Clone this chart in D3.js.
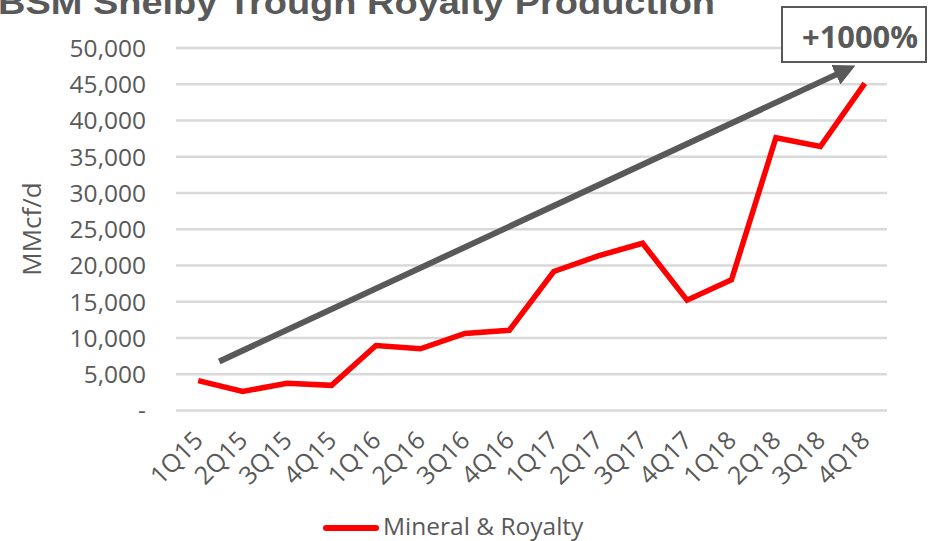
<!DOCTYPE html>
<html><head><meta charset="utf-8">
<script src="https://cdn.jsdelivr.net/npm/d3@7"></script>
<style>body{margin:0;background:#fff}svg{display:block}</style>
</head><body>
<svg id="c" width="931" height="541"></svg>
<script>
const categories = ["1Q15","2Q15","3Q15","4Q15","1Q16","2Q16","3Q16","4Q16","1Q17","2Q17","3Q17","4Q17","1Q18","2Q18","3Q18","4Q18"];
const royalty = [4050,2550,3700,3400,8900,8450,10550,11000,19100,21250,23000,15150,17950,37550,36350,45050];
const yTicks = [0,5000,10000,15000,20000,25000,30000,35000,40000,45000,50000];
const trendStart = {cat:"1Q15", v:6700};
const trendEnd = {cat:"4Q18", v:46500};
const title = "BSM Shelby Trough Royalty Production";
const seriesName = "Mineral & Royalty";
const yLabel = "MMcf/d";
const callout = "+1000%";

(function(){
const svg = d3.select("#c");
const grey = "#595959", font = "'Open Sans', sans-serif";
const pL = 176, pR = 887, pT = 47.5, pB = 410;
const x = d3.scalePoint().domain(categories).range([pL, pR]).padding(0.5);
const y = d3.scaleLinear().domain([0, 50000]).range([pB, pT]);

// title (cropped at top, as in the reference)
svg.append("text").attr("x", -2).attr("y", 14).attr("fill", grey)
  .attr("font-family", "'Liberation Sans Narrow','Liberation Sans',sans-serif")
  .attr("font-weight", "bold").attr("font-size", 33)
  .attr("textLength", 717).attr("lengthAdjust", "spacingAndGlyphs").text(title);

// gridlines + y tick labels
const yAxis = d3.axisLeft(y).tickValues(yTicks).tickSize(-(pR-pL)).tickPadding(30)
  .tickFormat(d => d === 0 ? "-" : d3.format(",")(d));
const gy = svg.append("g").attr("transform", `translate(${pL},0)`).call(yAxis);
gy.select(".domain").remove();
gy.selectAll(".tick line").attr("stroke", "#d9d9d9").attr("stroke-width", 2.5);
gy.selectAll(".tick text").attr("fill", grey).attr("font-family", font).attr("font-size", 24.5)
  .attr("dy", "0.36em");

// y label
svg.append("text").attr("transform", "translate(41,229) rotate(-90)").attr("text-anchor", "middle")
  .attr("fill", grey).attr("font-family", font).attr("font-size", 26).text(yLabel);

// x axis labels
const xAxis = d3.axisBottom(x).tickSize(0).tickPadding(0);
const gx = svg.append("g").attr("transform", `translate(0,${pB})`).call(xAxis);
gx.select(".domain").remove();
gx.selectAll(".tick text").attr("fill", grey).attr("font-family", font).attr("font-size", 25)
  .attr("text-anchor", "end").attr("dy", 0)
  .attr("transform", "translate(6,32) rotate(-45)");

// trend arrow
const defs = svg.append("defs");
defs.append("marker").attr("id", "ah").attr("viewBox", "0 0 10 10").attr("refX", 2).attr("refY", 5)
  .attr("markerWidth", 3.6).attr("markerHeight", 3.6).attr("orient", "auto")
  .append("path").attr("d", "M0,0 L10,5 L0,10 z").attr("fill", grey);
const ax0 = x(trendStart.cat) + 21, ay0 = y(trendStart.v);
const ax1 = x(trendEnd.cat) - 25, ay1 = y(trendEnd.v);
svg.append("line").attr("x1", ax0).attr("y1", ay0).attr("x2", ax1).attr("y2", ay1)
  .attr("stroke", grey).attr("stroke-width", 6).attr("marker-end", "url(#ah)");

// series line
const line = d3.line().x((d, i) => x(categories[i])).y(d => y(d));
svg.append("path").datum(royalty).attr("d", line).attr("fill", "none")
  .attr("stroke", "#ff0000").attr("stroke-width", 5.5).attr("stroke-linejoin", "miter");

// callout box
svg.append("rect").attr("x", 782).attr("y", 7).attr("width", 144).attr("height", 55)
  .attr("fill", "#fff").attr("stroke", grey).attr("stroke-width", 2);
svg.append("text").attr("x", 860).attr("y", 48).attr("text-anchor", "middle").attr("fill", grey)
  .attr("font-family", font).attr("font-weight", "bold").attr("font-size", 30)
  .attr("textLength", 116).attr("lengthAdjust", "spacingAndGlyphs").text(callout);

// legend
svg.append("line").attr("x1", 326).attr("x2", 376).attr("y1", 528).attr("y2", 528)
  .attr("stroke", "#ff0000").attr("stroke-width", 6).attr("stroke-linecap", "round");
svg.append("text").attr("x", 383).attr("y", 535).attr("fill", grey).attr("font-family", font)
  .attr("font-size", 24.5).text(seriesName);
})();
</script>
</body></html>
